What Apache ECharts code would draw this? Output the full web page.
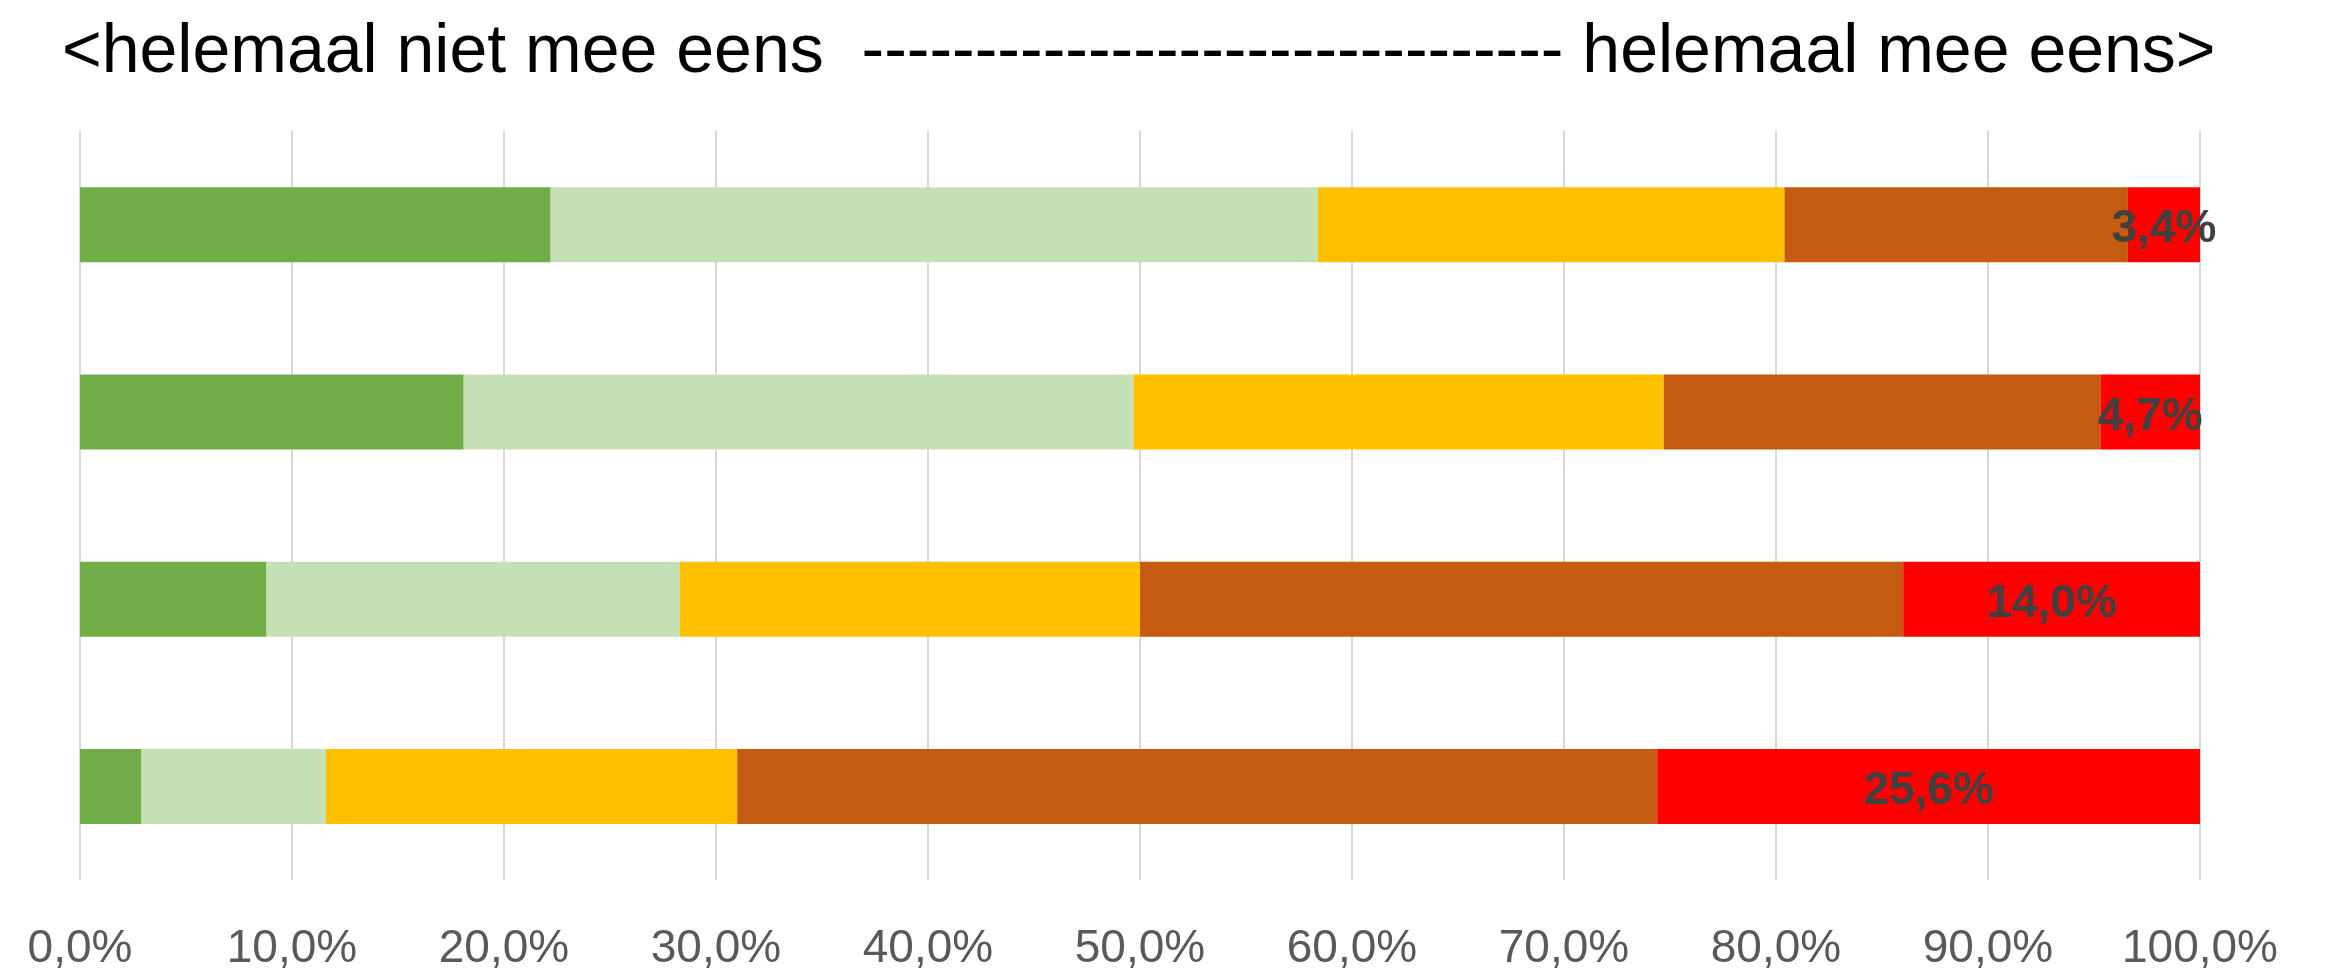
<!DOCTYPE html>
<html>
<head>
<meta charset="utf-8">
<script src="https://cdn.jsdelivr.net/npm/echarts@6/dist/echarts.min.js"></script>
<style>
  html, body { margin: 0; padding: 0; background: #fff; }
  #chart { width: 2335px; height: 972px; }
</style>
</head>
<body>
<div id="chart"></div>
<script>
// statements, top to bottom
const categories = ['Stelling 1', 'Stelling 2', 'Stelling 3', 'Stelling 4'];

// share per answer (percent), one value per statement
const helemaalNiet = [22.2, 18.1, 8.8, 2.9];
const nietMeeEens = [36.2, 31.6, 19.5, 8.7];
const neutraal = [22.0, 25.0, 21.7, 19.4];
const meeEens = [16.2, 20.6, 36.0, 43.4];
const helemaalWel = [3.4, 4.7, 14.0, 25.6];

const tickLabels = ['0,0%', '10,0%', '20,0%', '30,0%', '40,0%', '50,0%', '60,0%', '70,0%', '80,0%', '90,0%', '100,0%'];

const pct = v => v.toFixed(1).replace('.', ',') + '%';

const chart = echarts.init(document.getElementById('chart'));

const makeSeries = (name, data, color, withLabel) => ({
  name: name,
  type: 'bar',
  stack: 'total',
  barWidth: 75,
  data: data,
  itemStyle: { color: color },
  label: {
    show: withLabel,
    position: 'inside',
    offset: [0, 5],
    formatter: p => pct(p.value),
    fontFamily: 'Liberation Sans',
    fontSize: 46,
    fontWeight: 'bold',
    color: '#404040'
  }
});

const options = {
  animation: false,
  title: {
    text: '<helemaal niet mee eens  ------------------------------- helemaal mee eens>',
    left: 57,
    top: 14,
    textStyle: {
      fontFamily: 'Liberation Sans',
      fontSize: 68,
      fontWeight: 'normal',
      color: '#000'
    }
  },
  grid: {
    left: 80,
    right: 135,
    top: 131,
    bottom: 92
  },
  xAxis: {
    type: 'value',
    min: 0,
    max: 100,
    interval: 10,
    axisLine: { show: false },
    axisTick: { show: false },
    splitLine: { lineStyle: { color: '#D9D9D9', width: 2 } },
    axisLabel: {
      margin: 46,
      fontFamily: 'Liberation Sans',
      fontSize: 46,
      color: '#595959',
      formatter: v => tickLabels[Math.round(v / 10)]
    }
  },
  yAxis: {
    type: 'category',
    inverse: true,
    data: categories,
    axisLine: { show: false },
    axisTick: { show: false },
    axisLabel: { show: false }
  },
  series: [
    makeSeries('helemaal niet mee eens', helemaalNiet, '#70AD47', false),
    makeSeries('niet mee eens', nietMeeEens, '#C5E0B4', false),
    makeSeries('neutraal', neutraal, '#FFC000', false),
    makeSeries('mee eens', meeEens, '#C55A11', false),
    makeSeries('helemaal mee eens', helemaalWel, '#FF0000', true)
  ]
};

chart.setOption(options);
</script>
</body>
</html>
